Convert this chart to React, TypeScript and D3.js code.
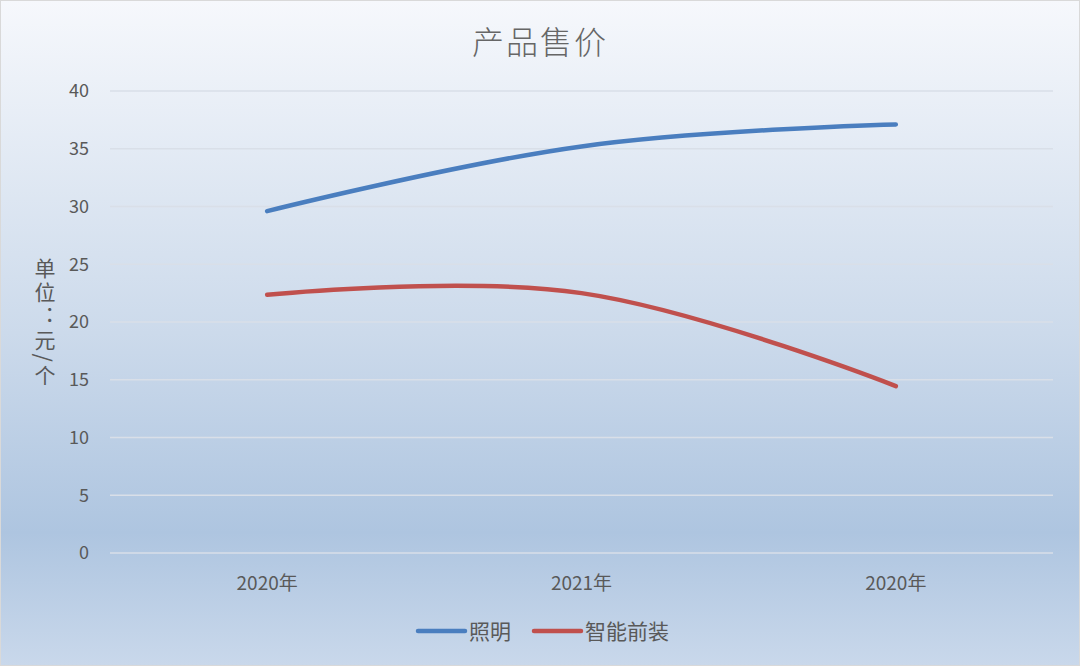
import * as d3 from "d3";
import { useEffect, useRef } from "react";

const categories = ["2020年", "2021年", "2020年"];
const lighting = [29.6, 35.2, 37.1];
const smartFront = [22.35, 22.5, 14.45];
const yTicks = [0, 5, 10, 15, 20, 25, 30, 35, 40];
const seriesNames = ["照明", "智能前装"];
const seriesColors = ["#4a7ebf", "#c0504d"];

const W = 1080;
const H = 666;
const FONT = "'Noto Sans CJK SC', 'Noto Sans', sans-serif";

export default function App() {
  const ref = useRef<SVGSVGElement | null>(null);

  useEffect(() => {
    if (!ref.current) return;
    const svg = d3.select(ref.current);
    svg.selectAll("*").remove();

    // background gradient
    const defs = svg.append("defs");
    const grad = defs
      .append("linearGradient")
      .attr("id", "bg")
      .attr("x1", 0)
      .attr("y1", 0)
      .attr("x2", 0)
      .attr("y2", 1);
    grad.append("stop").attr("offset", "0%").attr("stop-color", "#f6f8fc");
    grad.append("stop").attr("offset", "50%").attr("stop-color", "#ccdaeb");
    grad.append("stop").attr("offset", "80%").attr("stop-color", "#aec5e0");
    grad.append("stop").attr("offset", "100%").attr("stop-color", "#c9d8eb");

    svg
      .append("rect")
      .attr("x", 0.5)
      .attr("y", 0.5)
      .attr("width", W - 1)
      .attr("height", H - 1)
      .attr("fill", "url(#bg)")
      .attr("stroke", "#d9d9d9");

    const left = 110;
    const right = 1053;
    const top = 91;
    const bottom = 553;

    const x = d3
      .scaleBand<number>()
      .domain(categories.map((_, i) => i))
      .range([left, right]);
    const y = d3.scaleLinear().domain([0, 40]).range([bottom, top]);
    const cx = (i: number) => x(i)! + x.bandwidth() / 2;

    // title
    svg
      .append("text")
      .attr("x", 540)
      .attr("y", 54)
      .attr("text-anchor", "middle")
      .style("font-family", FONT)
      .style("font-weight", 300)
      .style("font-size", "32px")
      .style("fill", "#666")
      .style("letter-spacing", "2px")
      .text("产品售价");

    // grid
    svg
      .append("g")
      .selectAll("line")
      .data(yTicks)
      .join("line")
      .attr("x1", left)
      .attr("x2", right)
      .attr("y1", (d) => y(d))
      .attr("y2", (d) => y(d))
      .attr("stroke", "#d9dfe8")
      .attr("stroke-width", 1.3);

    // y ticks
    svg
      .append("g")
      .selectAll("text")
      .data(yTicks)
      .join("text")
      .attr("x", 89)
      .attr("y", (d) => y(d))
      .attr("dy", "0.36em")
      .attr("text-anchor", "end")
      .style("font-family", FONT)
      .style("font-size", "18px")
      .style("fill", "#595959")
      .text((d) => d);

    // x labels
    svg
      .append("g")
      .selectAll("text")
      .data(categories)
      .join("text")
      .attr("x", (_, i) => cx(i))
      .attr("y", 590)
      .attr("text-anchor", "middle")
      .style("font-family", FONT)
      .style("font-size", "19px")
      .style("fill", "#595959")
      .text((d) => d);

    // y axis title, vertical writing (colon kept upright)
    svg
      .append("text")
      .attr("x", 45)
      .attr("y", 323)
      .attr("text-anchor", "middle")
      .style("writing-mode", "vertical-rl")
      .style("font-feature-settings", '"vert" 0')
      .style("letter-spacing", "3px")
      .style("font-family", FONT)
      .style("font-size", "21px")
      .style("fill", "#595959")
      .text("单位：元/个");

    // lines
    const line = d3
      .line<number>()
      .x((_, i) => cx(i))
      .y((d) => y(d))
      .curve(d3.curveCardinal.tension(-0.15));

    [lighting, smartFront].forEach((s, k) => {
      svg
        .append("path")
        .attr("d", line(s)!)
        .attr("fill", "none")
        .attr("stroke", seriesColors[k])
        .attr("stroke-width", 4.5)
        .attr("stroke-linecap", "round");
    });

    // legend
    const legendX = [418, 534];
    const legendY = 631;
    seriesNames.forEach((name, k) => {
      const g = svg.append("g");
      g.append("line")
        .attr("x1", legendX[k])
        .attr("x2", legendX[k] + 47)
        .attr("y1", legendY)
        .attr("y2", legendY)
        .attr("stroke", seriesColors[k])
        .attr("stroke-width", 4.5)
        .attr("stroke-linecap", "round");
      g.append("text")
        .attr("x", legendX[k] + 51)
        .attr("y", legendY)
        .attr("dy", "0.36em")
        .style("font-family", FONT)
        .style("font-size", "21px")
        .style("fill", "#595959")
        .text(name);
    });
  }, []);

  return (
    <svg
      ref={ref}
      width={W}
      height={H}
      style={{ position: "absolute", left: 0, top: 0, display: "block" }}
    />
  );
}
